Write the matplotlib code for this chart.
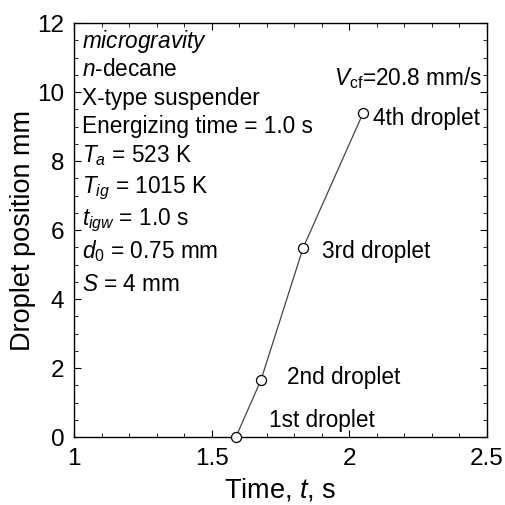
import matplotlib
matplotlib.use("Agg")
import matplotlib.pyplot as plt
from matplotlib.ticker import MultipleLocator

plt.rcParams['font.family'] = ['Liberation Sans', 'DejaVu Sans']
plt.rcParams['mathtext.fontset'] = 'custom'
plt.rcParams['mathtext.rm'] = 'Liberation Sans'
plt.rcParams['mathtext.it'] = 'Liberation Sans:italic'

time_s = [1.588, 1.679, 1.832, 2.05]
position_mm = [0.0, 1.65, 5.48, 9.39]
droplet_labels = ["1st droplet", "2nd droplet", "3rd droplet", "4th droplet"]
conditions = [
    r"$\it{microgravity}$",
    r"$\it{n}$-decane",
    "X-type suspender",
    "Energizing time = 1.0 s",
    r"$\it{T}_{\it{a}}$ = 523 K",
    r"$\it{T}_{\it{ig}}$ = 1015 K",
    r"$\it{t}_{\it{igw}}$ = 1.0 s",
    r"$\it{d}_{0}$ = 0.75 mm",
    r"$\it{S}$ = 4 mm",
]
velocity_label = r"$\it{V}_{\rm{cf}}$=20.8 mm/s"

W = H = 506
fig = plt.figure(figsize=(W / 100, H / 100), dpi=100)
L, R, T, B = 74, 487, 24, 438
ax = fig.add_axes([L / W, 1 - B / H, (R - L) / W, (B - T) / H])

ax.plot(time_s, position_mm, color='#444444', lw=0.9, marker='o', ms=7.2,
        mfc='white', mec='black', mew=0.9, clip_on=False, zorder=3)

offsets_px = [(33, 11), (26, -3), (19, -9), (10, -11)]
for t, p, lab, off in zip(time_s, position_mm, droplet_labels, offsets_px):
    ax.annotate(lab, (t, p), xytext=off, textcoords='offset pixels',
                fontsize=16.3, va='baseline', ha='left')

baselines_px = [48, 76, 105, 133, 162, 193, 225, 258, 291]
for line, yb in zip(conditions, baselines_px):
    ax.text((82 - L) / (R - L), (B - yb) / (B - T), line, transform=ax.transAxes,
            fontsize=16.3, va='baseline', ha='left')

ax.text((482 - L) / (R - L), (B - 85) / (B - T), velocity_label,
        transform=ax.transAxes, fontsize=16.3, va='baseline', ha='right')

ax.set_xlim(1, 2.5)
ax.set_ylim(0, 12)
ax.xaxis.set_major_locator(MultipleLocator(0.5))
ax.xaxis.set_minor_locator(MultipleLocator(0.1))
ax.yaxis.set_major_locator(MultipleLocator(2))
ax.yaxis.set_minor_locator(MultipleLocator(0.5))
ax.set_xticks([1, 1.5, 2, 2.5])
ax.set_xticklabels(["1", "1.5", "2", "2.5"])
ax.tick_params(which='both', direction='in', top=True, right=True)
ax.tick_params(which='major', length=5, labelsize=17.5, pad=7)
ax.tick_params(which='minor', length=3)
for s in ax.spines.values():
    s.set_linewidth(1.0)

ax.set_xlabel(r"Time, $\it{t}$, s", fontsize=19.5, labelpad=5)
ax.set_ylabel("Droplet position mm", fontsize=19.5, labelpad=1)

fig.savefig("out.png", dpi=100)
